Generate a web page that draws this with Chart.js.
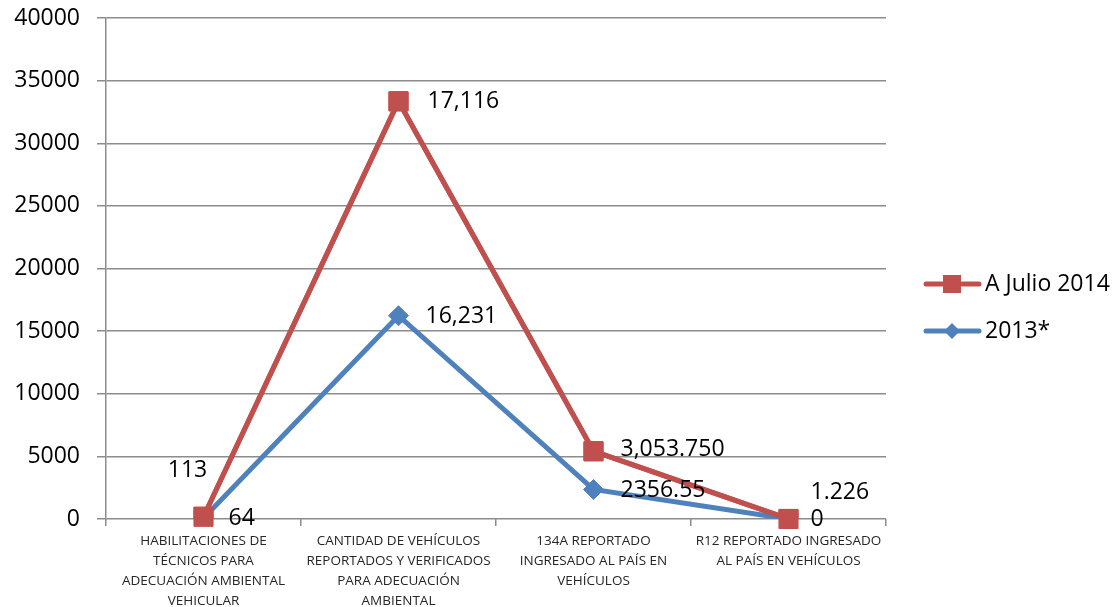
<!DOCTYPE html>
<html>
<head>
<meta charset="utf-8">
<script src="https://cdn.jsdelivr.net/npm/chart.js@4"></script>
<style>
html,body{margin:0;padding:0;background:#fff;}
#wrap{width:1117px;height:607px;position:relative;}
</style>
</head>
<body>
<div id="wrap"><canvas id="c"></canvas></div>
<script>
const categories = [
  ["HABILITACIONES DE","TÉCNICOS PARA","ADECUACIÓN AMBIENTAL","VEHICULAR"],
  ["CANTIDAD DE VEHÍCULOS","REPORTADOS Y VERIFICADOS","PARA ADECUACIÓN","AMBIENTAL"],
  ["134A REPORTADO","INGRESADO AL PAÍS EN","VEHÍCULOS"],
  ["R12 REPORTADO INGRESADO","AL PAÍS EN VEHÍCULOS"]
];
const seriesNames = ["A Julio 2014", "2013*"];
const julio2014 = [113, 17116, 3053.75, 1.226];
const y2013 = [64, 16231, 2356.55, 0];
const julio2014Labels = ["113", "17,116", "3,053.750", "1.226"];
const y2013Labels = ["64", "16,231", "2356.55", "0"];
const yTicks = [0, 5000, 10000, 15000, 20000, 25000, 30000, 35000, 40000];

const RED = '#C0504D', BLUE = '#4F81BD';
const FONT = "'Open Sans', 'Liberation Sans', sans-serif";

// label placement (style only)
const labelPos = {
  0: [[25,0,'left'],[27,1,'left'],[27,1,'left'],[22,0,'left']],
  1: [[-16,-46,'center'],[29,0,'left'],[27,-2,'left'],[22,-27,'left']]
};

const redOnTop = {
  id: 'redOnTop',
  afterDatasetsDraw(chart) {
    const meta = chart.getDatasetMeta(1);
    const ctx = chart.ctx;
    ctx.save();
    meta.controller.draw();
    ctx.restore();
  }
};

const dataLabels = {
  id: 'dataLabels',
  afterDatasetsDraw(chart) {
    const ctx = chart.ctx;
    ctx.save();
    ctx.font = "23px " + FONT;
    ctx.fillStyle = '#000';
    ctx.textBaseline = 'middle';
    chart.data.datasets.forEach((ds, di) => {
      const meta = chart.getDatasetMeta(di);
      meta.data.forEach((pt, i) => {
        const p = labelPos[di][i];
        ctx.textAlign = p[2];
        ctx.fillText(ds.labelTexts[i], pt.x + p[0], pt.y + p[1]);
      });
    });
    ctx.restore();
  }
};

const customLegend = {
  id: 'customLegend',
  afterDraw(chart) {
    const ctx = chart.ctx;
    ctx.save();
    const items = [
      {name: seriesNames[0], color: RED, shape: 'rect', y: 284},
      {name: seriesNames[1], color: BLUE, shape: 'diamond', y: 331}
    ];
    items.forEach(it => {
      ctx.strokeStyle = it.color;
      ctx.lineWidth = 5;
      ctx.lineCap = 'round';
      ctx.beginPath();
      ctx.moveTo(926, it.y);
      ctx.lineTo(979, it.y);
      ctx.stroke();
      ctx.fillStyle = it.color;
      const cx = 952;
      if (it.shape === 'rect') {
        ctx.fillRect(cx - 9, it.y - 9, 18, 18);
      } else {
        ctx.beginPath();
        ctx.moveTo(cx, it.y - 8);
        ctx.lineTo(cx + 8, it.y);
        ctx.lineTo(cx, it.y + 8);
        ctx.lineTo(cx - 8, it.y);
        ctx.closePath();
        ctx.fill();
      }
      ctx.fillStyle = '#000';
      ctx.font = "23px " + FONT;
      ctx.textAlign = 'left';
      ctx.textBaseline = 'middle';
      ctx.fillText(it.name, 985, it.y);
    });
    ctx.restore();
  }
};

new Chart(document.getElementById('c'), {
  type: 'line',
  data: {
    labels: categories,
    datasets: [
      {
        label: seriesNames[1],
        data: y2013,
        labelTexts: y2013Labels,
        borderColor: BLUE,
        backgroundColor: BLUE,
        borderWidth: 5,
        tension: 0,
        fill: false,
        pointStyle: 'rectRot',
        pointRadius: 10,
        pointHoverRadius: 10,
        pointBorderWidth: 1,
        pointBorderColor: BLUE,
        pointBackgroundColor: BLUE
      },
      {
        label: seriesNames[0],
        data: julio2014,
        labelTexts: julio2014Labels,
        borderColor: RED,
        backgroundColor: RED,
        borderWidth: 5,
        tension: 0,
        fill: false,
        pointStyle: 'rect',
        pointRadius: 13.5,
        pointHoverRadius: 13.5,
        pointBorderWidth: 1,
        pointBorderColor: RED,
        pointBackgroundColor: RED
      }
    ]
  },
  options: {
    responsive: true,
    maintainAspectRatio: false,
    animation: false,
    layout: { padding: { left: 0, right: 231, top: 18, bottom: 0 } },
    plugins: {
      legend: { display: false },
      tooltip: { enabled: false }
    },
    scales: {
      x: {
        offset: true,
        grid: {
          offset: true,
          drawOnChartArea: false,
          drawTicks: true,
          tickLength: 7,
          color: '#8c8c8c',
          lineWidth: 1.5
        },
        border: { display: false },
        ticks: {
          color: '#262626',
          padding: 5,
          maxRotation: 0,
          autoSkip: false,
          font: { family: FONT, size: 13.5, lineHeight: 1.48 }
        },
        afterFit(scale) { scale.height = 88; scale.paddingLeft = 0; scale.paddingRight = 0; }
      },
      y: {
        stacked: true,
        min: 0,
        max: 40000,
        afterBuildTicks(scale) { scale.ticks = yTicks.map(v => ({value: v})); },
        grid: {
          color: '#8c8c8c',
          lineWidth: 1.5,
          tickLength: 9
        },
        border: { display: true, color: '#8c8c8c', width: 1.5 },
        ticks: {
          color: '#000',
          padding: 17,
          font: { family: FONT, size: 23 },
          callback: v => String(v)
        },
        afterFit(scale) { scale.width = 106; scale.paddingTop = 0; scale.paddingBottom = 0; }
      }
    }
  },
  plugins: [redOnTop, dataLabels, customLegend]
});
</script>
</body>
</html>
